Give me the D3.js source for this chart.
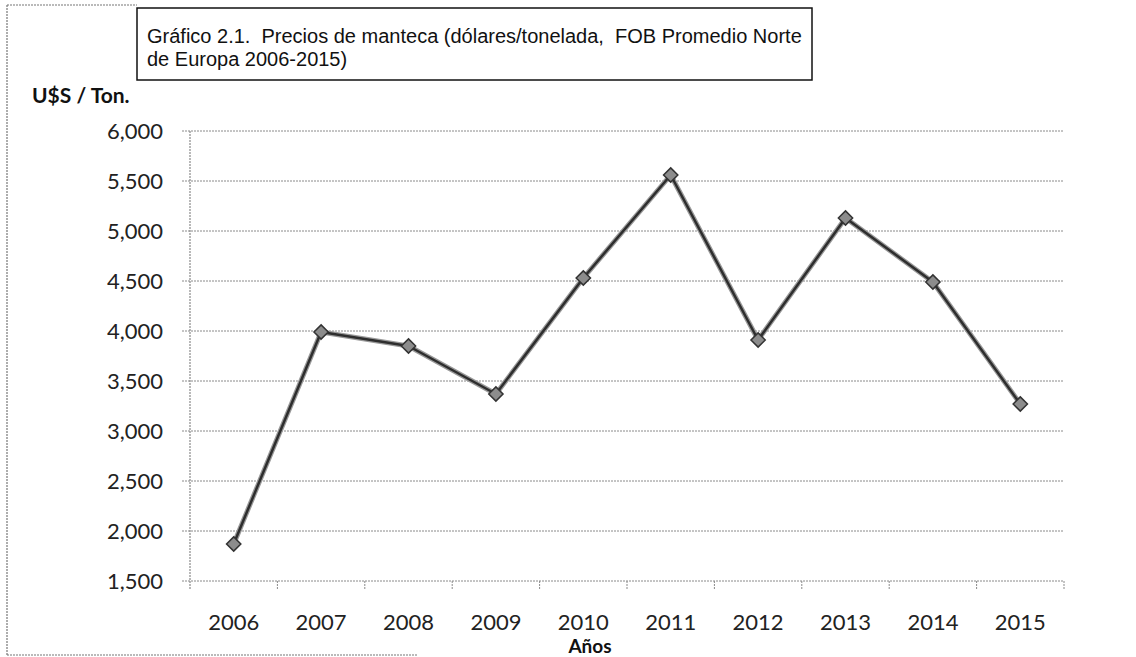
<!DOCTYPE html>
<html>
<head>
<meta charset="utf-8">
<script src="https://cdn.jsdelivr.net/npm/d3@7"></script>
<style>
  body { margin: 0; background: #fff; }
  svg { display: block; }
</style>
</head>
<body>
<div class="graphic"></div>
<script>
// data
const years = ["2006", "2007", "2008", "2009", "2010", "2011", "2012", "2013", "2014", "2015"];
const prices = [1870, 3990, 3850, 3370, 4530, 5560, 3910, 5130, 4490, 3270];
const yTicks = [1500, 2000, 2500, 3000, 3500, 4000, 4500, 5000, 5500, 6000];
const titleLines = ["Gráfico 2.1.  Precios de manteca (dólares/tonelada,  FOB Promedio Norte", "de Europa 2006-2015)"];

const W = 1136, H = 657;

const svg = d3.select(".graphic")
  .append("svg")
  .attr("width", W)
  .attr("height", H);

// plot area
const plotL = 190, plotR = 1064, plotT = 131, plotB = 581;

const xScale = d3.scaleBand()
  .domain(years)
  .range([plotL, plotR])
  .padding(0);

const yScale = d3.scaleLinear()
  .domain([1500, 6000])
  .range([plotB, plotT]);

const grid = "#8a8a8a";

// outer frame (only partly visible in the scan)
svg.append("line")
  .attr("x1", 7).attr("y1", 5).attr("x2", 7).attr("y2", 655)
  .attr("stroke", "#777").attr("stroke-width", 1.2).attr("stroke-dasharray", "2,1");
svg.append("line")
  .attr("x1", 7).attr("y1", 655).attr("x2", 417).attr("y2", 655)
  .attr("stroke", "#777").attr("stroke-width", 1.2).attr("stroke-dasharray", "2,1");
svg.append("line")
  .attr("x1", 7).attr("y1", 5).attr("x2", 137).attr("y2", 5)
  .attr("stroke", "#777").attr("stroke-width", 1.2).attr("stroke-dasharray", "2,1");

// horizontal gridlines
svg.append("g")
  .selectAll("line")
  .data(yTicks)
  .join("line")
    .attr("x1", plotL - 8)
    .attr("x2", plotR)
    .attr("y1", d => yScale(d))
    .attr("y2", d => yScale(d))
    .attr("stroke", grid)
    .attr("stroke-width", 1)
    .attr("stroke-dasharray", "2,1");

// y axis line
svg.append("line")
  .attr("x1", plotL).attr("x2", plotL)
  .attr("y1", plotT).attr("y2", plotB + 8)
  .attr("stroke", grid)
  .attr("stroke-width", 1.2)
  .attr("stroke-dasharray", "2,1");

// x ticks at band edges
const edges = years.map(d => xScale(d)).concat([plotR]).slice(1);
svg.append("g")
  .selectAll("line")
  .data(edges)
  .join("line")
    .attr("x1", d => d).attr("x2", d => d)
    .attr("y1", plotB).attr("y2", plotB + 8)
    .attr("stroke", grid)
    .attr("stroke-width", 1)
    .attr("stroke-dasharray", "2,1");

// y tick labels
svg.append("g")
  .selectAll("text")
  .data(yTicks)
  .join("text")
    .text(d => d3.format(",")(d))
    .attr("x", 163)
    .attr("y", d => yScale(d))
    .attr("dy", "0.36em")
    .attr("text-anchor", "end")
    .attr("font-family", "Lato, 'Open Sans', sans-serif")
    .attr("font-size", 22)
    .attr("fill", "#222");

// x tick labels
svg.append("g")
  .selectAll("text")
  .data(years)
  .join("text")
    .text(d => d)
    .attr("x", d => xScale(d) + xScale.bandwidth() / 2)
    .attr("y", 630)
    .attr("text-anchor", "middle")
    .attr("font-family", "Lato, 'Open Sans', sans-serif")
    .attr("font-size", 22)
    .attr("fill", "#222");

// axis titles
svg.append("text")
  .text("U$S / Ton.")
  .attr("x", 32).attr("y", 103)
  .attr("font-family", "Lato, 'Open Sans', sans-serif")
  .attr("font-weight", "bold")
  .attr("font-size", 21)
  .attr("fill", "#111");

svg.append("text")
  .text("Años")
  .attr("x", 590).attr("y", 653)
  .attr("text-anchor", "middle")
  .attr("font-family", "Lato, 'Open Sans', sans-serif")
  .attr("font-weight", "bold")
  .attr("font-size", 19)
  .attr("fill", "#111");

// title box
svg.append("rect")
  .attr("x", 137).attr("y", 8)
  .attr("width", 675).attr("height", 72)
  .attr("fill", "#fff")
  .attr("stroke", "#111")
  .attr("stroke-width", 1.5);

svg.append("g")
  .selectAll("text")
  .data(titleLines)
  .join("text")
    .text(d => d)
    .attr("x", 147)
    .attr("y", (d, i) => 43 + i * 23)
    .attr("font-family", "'Liberation Sans', Arial, sans-serif")
    .attr("font-size", 20)
    .attr("fill", "#111")
    .style("white-space", "pre");

// the series line
const pts = years.map((d, i) => ({ year: d, value: prices[i] }));
const cx = d => xScale(d.year) + xScale.bandwidth() / 2;

svg.append("path")
  .datum(pts)
  .attr("d", d3.line().x(cx).y(d => yScale(d.value)))
  .attr("fill", "none")
  .attr("stroke", "#9a9a9a")
  .attr("stroke-width", 5)
  .attr("stroke-linejoin", "round");

svg.append("path")
  .datum(pts)
  .attr("d", d3.line().x(cx).y(d => yScale(d.value)))
  .attr("fill", "none")
  .attr("stroke", "#2e2e2e")
  .attr("stroke-width", 2.5)
  .attr("stroke-linejoin", "round");

// diamond markers
svg.append("g")
  .selectAll("path")
  .data(pts)
  .join("path")
    .attr("transform", d => `translate(${cx(d)},${yScale(d.value)})`)
    .attr("d", d3.symbol(d3.symbolDiamond2, 130))
    .attr("fill", "#8c8c8c")
    .attr("stroke", "#333")
    .attr("stroke-width", 1.5);
</script>
</body>
</html>
